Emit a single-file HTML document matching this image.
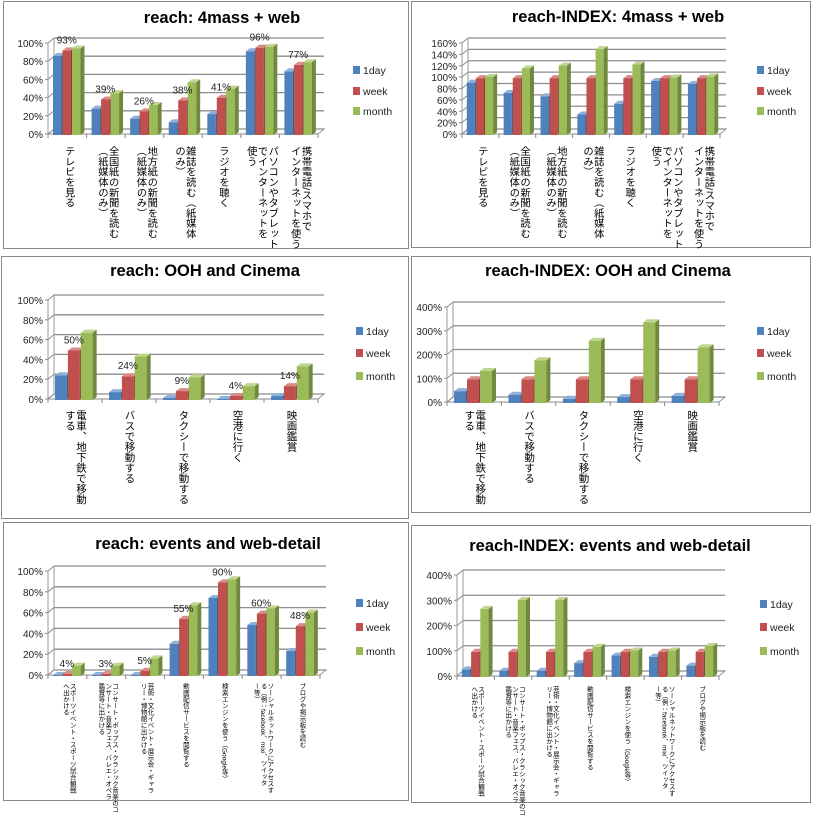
<!DOCTYPE html>
<html><head><meta charset="utf-8">
<style>
body{margin:0;background:#fff;width:814px;height:804px;overflow:hidden;position:relative;font-family:"Liberation Sans","Noto Sans CJK JP",sans-serif}
.box{position:absolute;border:1px solid #8a8a8a;box-sizing:border-box}
.cat{position:absolute;writing-mode:vertical-rl;transform:translateX(-50%);color:#000;line-height:1.05;white-space:pre;font-family:"Liberation Sans","Noto Sans CJK JP",sans-serif}
svg{position:absolute;left:0;top:0}
</style></head><body>
<div class="box" style="left:3px;top:1px;width:406px;height:248px"></div>
<div class="box" style="left:411px;top:1px;width:400px;height:247px"></div>
<div class="box" style="left:1px;top:256px;width:408px;height:263px"></div>
<div class="box" style="left:411px;top:256px;width:400px;height:257px"></div>
<div class="box" style="left:3px;top:522px;width:406px;height:279px"></div>
<div class="box" style="left:411px;top:525px;width:400px;height:278px"></div>
<svg id="s" width="814" height="804" xmlns="http://www.w3.org/2000/svg"></svg>
<script>
var S=document.getElementById('s'),out='';
var COL=[['#4F81BD','#385D8A','#8FB0DA'],['#C0504D','#8C3836','#DA8A88'],['#9BBB59','#71893F','#C0D590']];
function chart(o){
 var dx=6,dy=-5,x0=o.x0,y0=o.y0,W=o.W,H=o.H,n=o.data.length,g=W/n;
 out+='<polygon points="'+x0+','+y0+' '+(x0+W)+','+y0+' '+(x0+W+dx)+','+(y0+dy)+' '+(x0+dx)+','+(y0+dy)+'" fill="#fff" stroke="#999"/>';
 for(var v=0;v<=o.max;v+=o.step){
  var y=y0-v/o.max*H;
  out+='<line x1="'+(x0+dx)+'" y1="'+(y+dy)+'" x2="'+(x0+W+dx)+'" y2="'+(y+dy)+'" stroke="#8c8c8c" stroke-width="1.3"/>';
  out+='<line x1="'+x0+'" y1="'+y+'" x2="'+(x0+dx)+'" y2="'+(y+dy)+'" stroke="#8c8c8c"/>';
  out+='<text x="'+(x0-5)+'" y="'+(y+4)+'" font-size="10" text-anchor="end" fill="#222">'+v+'%</text>';
  out+='<line x1="'+(x0-3)+'" y1="'+y+'" x2="'+x0+'" y2="'+y+'" stroke="#888"/>';
 }
 out+='<line x1="'+x0+'" y1="'+y0+'" x2="'+x0+'" y2="'+(y0-H)+'" stroke="#999"/>';
 out+='<line x1="'+(x0+dx)+'" y1="'+(y0+dy)+'" x2="'+(x0+dx)+'" y2="'+(y0-H+dy)+'" stroke="#999"/>';
 out+='<line x1="'+x0+'" y1="'+y0+'" x2="'+(x0+W)+'" y2="'+y0+'" stroke="#888"/>';
 for(var i=0;i<=n;i++){var tx=x0+i*g;out+='<line x1="'+tx+'" y1="'+y0+'" x2="'+tx+'" y2="'+(y0+4)+'" stroke="#888"/>';}
 var bw=g*0.22,bd=4,bdy=-3;
 for(i=0;i<n;i++){
  var gx=x0+i*g+g*0.13;
  for(var k=0;k<3;k++){
   var bx=gx+k*(bw+1),h=Math.min(o.data[i][k],o.max)/o.max*H,by=y0-h+1;
   var c=COL[k];
   out+='<rect x="'+bx+'" y="'+by+'" width="'+bw+'" height="'+(h)+'" fill="'+c[0]+'"/>';
   out+='<polygon points="'+(bx+bw)+','+by+' '+(bx+bw+bd)+','+(by+bdy)+' '+(bx+bw+bd)+','+(y0+1+bdy)+' '+(bx+bw)+','+(y0+1)+'" fill="'+c[1]+'"/>';
   out+='<polygon points="'+bx+','+by+' '+(bx+bd)+','+(by+bdy)+' '+(bx+bw+bd)+','+(by+bdy)+' '+(bx+bw)+','+by+'" fill="'+c[2]+'"/>';
  }
  if(o.vl){var wx=gx+bw*1.5+1,wy=y0-o.data[i][1]/o.max*H-6;
   out+='<text x="'+wx+'" y="'+wy+'" font-size="10" text-anchor="middle" fill="#222">'+o.vl[i]+'</text>';}
  var d=document.createElement('div');d.className='cat';
  d.style.left=(x0+i*g+g/2)+'px';d.style.top=o.lt+'px';d.style.fontSize=o.lf+'px';
  d.textContent=o.labels[i];document.body.appendChild(d);
 }
 var names=['1day','week','month'];
 for(k=0;k<3;k++){
  out+='<rect x="'+o.lx+'" y="'+(o.ly[k]-4)+'" width="7" height="8" fill="'+COL[k][0]+'"/>';
  out+='<text x="'+(o.lx+10)+'" y="'+(o.ly[k]+4)+'" font-size="10.5" fill="#222">'+names[k]+'</text>';
 }
 out+='<text x="'+o.tx+'" y="'+o.ty+'" font-size="16.5" font-weight="bold" text-anchor="middle" fill="#000">'+o.title+'</text>';
}
var L1=['テレビを見る','全国紙の新聞を読む\n（紙媒体のみ）','地方紙の新聞を読む\n（紙媒体のみ）','雑誌を読む（紙媒体\nのみ）','ラジオを聴く','パソコンやタブレット\nでインターネットを\n使う','携帯電話/スマホで\nインターネットを使う'];
var L2=['電車、地下鉄で移動\nする','バスで移動する','タクシーで移動する','空港に行く','映画鑑賞'];
var L3=['スポーツイベント・スポーツ試合観戦\nへ出かける','コンサート・ポップス・クラシック音楽のコ\nンサート・音楽フェス、バレエ・オペラ\n鑑賞等に出かける','芸術・文化イベント・展示会・ギャラ\nリー・博物館に出かける','動画配信サービスを閲覧する','検索エンジンを使う（Google等）','ソーシャルネットワークにアクセスす\nる（例：facebook、mixi、ツイッタ\nー等）','ブログや掲示板を読む'];
chart({x0:48,y0:134,W:270,H:91,max:100,step:20,data:[[87,93,95],[29,39,46],[18,26,33],[14,38,58],[23,41,51],[92,96,97],[70,77,80]],vl:['93%','39%','26%','38%','41%','96%','77%'],labels:L1,lt:146,lf:10.3,lx:353,ly:[70,91,111],title:'reach: 4mass + web',tx:222,ty:23});
chart({x0:462,y0:134,W:258,H:91,max:160,step:20,data:[[92,100,102],[74,100,117],[68,100,122],[36,100,151],[55,100,124],[95,100,101],[90,100,103]],labels:L1,lt:146,lf:10.3,lx:757,ly:[70,91,111],title:'reach-INDEX: 4mass + web',tx:618,ty:22});
chart({x0:48,y0:399,W:270,H:99,max:100,step:20,data:[[25,50,68],[8,24,44],[2,9,23],[1,4,14],[4,14,34]],vl:['50%','24%','9%','4%','14%'],labels:L2,lt:410,lf:10.5,lx:356,ly:[331,353,376],title:'reach: OOH and Cinema',tx:205,ty:276});
chart({x0:447,y0:402,W:272,H:95,max:400,step:100,data:[[50,100,135],[35,100,180],[18,100,262],[25,100,340],[30,100,235]],labels:L2,lt:410,lf:10.5,lx:757,ly:[331,353,376],title:'reach-INDEX: OOH and Cinema',tx:608,ty:276});
chart({x0:48,y0:675,W:272,H:104,max:100,step:20,data:[[1,2,10],[1,2,10],[1,5,17],[31,55,68],[75,90,93],[49,60,65],[24,48,61]],vl:['4%','3%','5%','55%','90%','60%','48%'],labels:L3,lt:683,lf:6.5,lx:356,ly:[603,627,651],title:'reach: events and web-detail',tx:208,ty:549});
chart({x0:457,y0:676,W:262,H:101,max:400,step:100,data:[[30,100,270],[25,100,305],[25,100,305],[55,100,120],[85,100,105],[80,100,105],[45,100,123]],labels:L3,lt:686,lf:6.5,lx:760,ly:[604,627,651],title:'reach-INDEX: events and web-detail',tx:610,ty:551});
S.innerHTML=out;
</script>
</body></html>
